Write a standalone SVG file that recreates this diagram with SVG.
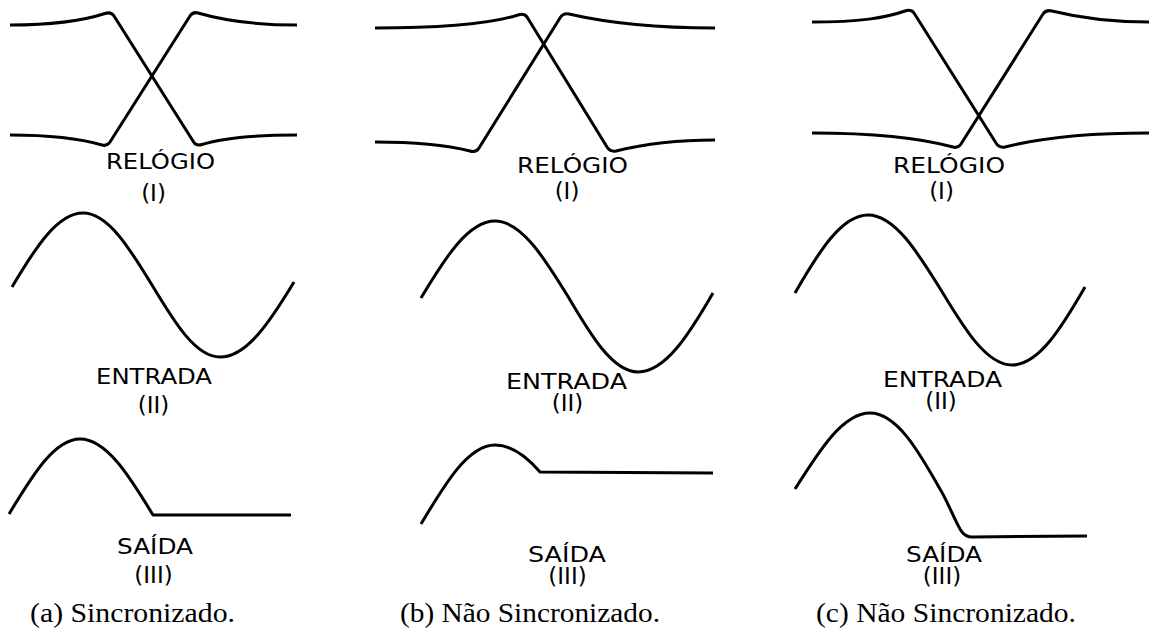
<svg xmlns="http://www.w3.org/2000/svg" width="1152" height="632" viewBox="0 0 1152 632">
<style>
.w{fill:none;stroke:#000;stroke-width:3;stroke-linejoin:round;stroke-linecap:butt}
.lb{font-family:"DejaVu Sans",Verdana,sans-serif;font-size:22px;fill:#000}
.pr{font-family:"DejaVu Sans",Verdana,sans-serif;font-size:23px;fill:#000;text-anchor:middle}
.cap{font-family:"Liberation Serif","Times New Roman",serif;font-size:28px;fill:#000}
</style>
<rect width="1152" height="632" fill="#fff"/>
<g id="panel-a">
  <g id="a-clock">
    <path class="w" d="M10,25 C55,25 85,20 105,13.5 Q111,11.5 114,16 L193,141 Q196,146.5 202,144.5 C225,137 260,135 297,135"/>
    <path class="w" d="M10,135 C55,135 85,140 102,145 Q107,146.5 110,142 L190,16 Q193,11.5 198,13 C222,20 255,25 297,25"/>
    <text class="lb" x="106" y="169" textLength="109" lengthAdjust="spacingAndGlyphs">RELÓGIO</text>
    <text class="pr" x="153.5" y="201">(I)</text>
  </g>
  <g id="a-input">
    <path class="w" d="M12,287 C35.1,248.1 57.3,213 83,213 C108,213 129.5,248.1 152,285 C174.2,321.9 195.4,357 220,357 C246.8,357 269.9,321.9 294,282"/>
    <text class="lb" x="96" y="384" textLength="116" lengthAdjust="spacingAndGlyphs">ENTRADA</text>
    <text class="pr" x="153.5" y="413">(II)</text>
  </g>
  <g id="a-output">
    <path class="w" d="M9,514 C32.2,475.8 54.3,439 80,439 C106.4,439 129.2,475.8 153,515 L291,515"/>
    <text class="lb" x="117" y="554" textLength="76" lengthAdjust="spacingAndGlyphs">SAÍDA</text>
    <text class="pr" x="153.5" y="583">(III)</text>
  </g>
  <text class="cap" x="30" y="622" textLength="205" lengthAdjust="spacingAndGlyphs">(a) Sincronizado.</text>
</g>
<g id="panel-b">
  <g id="b-clock">
    <path class="w" d="M375,28 C440,28 490,24 518,15 Q524,13 527,17 L607,147 Q610,152 616,151 C640,145 675,140 715,140"/>
    <path class="w" d="M375,142 C420,142 450,146 470,151 Q476,153 479,148 L560,18 Q563,13 569,14 C595,20 640,28 715,28"/>
    <text class="lb" x="517" y="173" textLength="111" lengthAdjust="spacingAndGlyphs">RELÓGIO</text>
    <text class="pr" x="567" y="199">(I)</text>
  </g>
  <g id="b-input">
    <path class="w" d="M421,298 C445.1,257.8 468.2,221 495,221 C521.4,221 544.2,257.8 568,296.5 C590.8,335.2 612.7,372 638,372 C665.2,372 688.6,335.2 713,293"/>
    <text class="lb" x="506" y="389" textLength="121" lengthAdjust="spacingAndGlyphs">ENTRADA</text>
    <text class="pr" x="567.5" y="411">(II)</text>
  </g>
  <g id="b-output">
    <path class="w" d="M421,524 C445.1,483.6 468.2,445 495,445 C512,445 528,458 540,472 L713,473"/>
    <text class="lb" x="528" y="562" textLength="78" lengthAdjust="spacingAndGlyphs">SAÍDA</text>
    <text class="pr" x="567.5" y="584">(III)</text>
  </g>
  <text class="cap" x="400" y="622" textLength="260" lengthAdjust="spacingAndGlyphs">(b) Não Sincronizado.</text>
</g>
<g id="panel-c">
  <g id="c-clock">
    <path class="w" d="M812,22 C860,22 885,18 905,11 Q911,9 914,13 L996,143 Q999,148 1005,147 C1040,138 1090,133 1149,133"/>
    <path class="w" d="M812,133 C870,133 920,138 953,147 Q958,148.5 961,144 L1043,14 Q1046,9.5 1052,11 C1080,18 1110,22 1149,22"/>
    <text class="lb" x="893" y="173" textLength="112" lengthAdjust="spacingAndGlyphs">RELÓGIO</text>
    <text class="pr" x="941.5" y="199">(I)</text>
  </g>
  <g id="c-input">
    <path class="w" d="M795,293 C818.8,251.6 841.6,215 868,215 C894.4,215 917.2,251.6 941,290 C964.1,328.4 986.3,365 1012,365 C1038.4,365 1061.2,328.4 1085,287"/>
    <text class="lb" x="883" y="387" textLength="119" lengthAdjust="spacingAndGlyphs">ENTRADA</text>
    <text class="pr" x="941" y="409">(II)</text>
  </g>
  <g id="c-output">
    <path class="w" d="M795,489 C819.5,450.1 842.9,413 870,413 C896.4,413 918,450 940,489 C948,502 957,526 962,532 Q966,537 972,537 L1087,536"/>
    <text class="lb" x="906" y="562" textLength="76" lengthAdjust="spacingAndGlyphs">SAÍDA</text>
    <text class="pr" x="942" y="584">(III)</text>
  </g>
  <text class="cap" x="816" y="622" textLength="260" lengthAdjust="spacingAndGlyphs">(c) Não Sincronizado.</text>
</g>
<g id="connectors"></g>
</svg>
